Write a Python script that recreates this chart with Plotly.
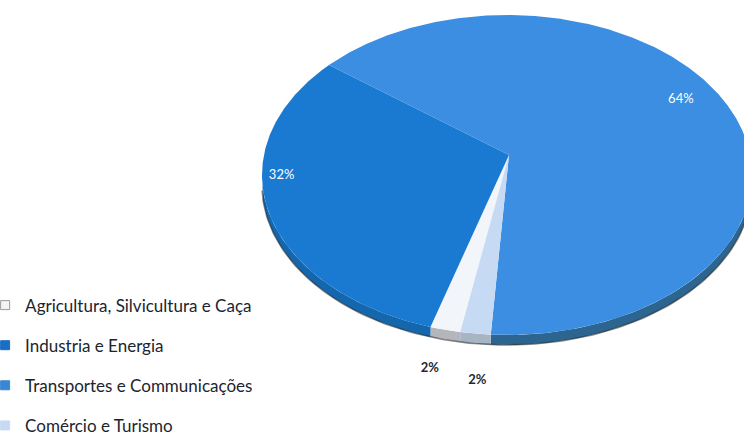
import numpy as np
import plotly.graph_objects as go

# ---- data ----
categories = ["Agricultura, Silvicultura e Caça", "Industria e Energia",
              "Transportes e Communicações", "Comércio e Turismo"]
values = [2, 32, 64, 2]
pct_labels = ["2%", "32%", "64%", "2%"]

# ---- style / geometry ----
top_colors = ["#f2f5fa", "#1a79d0", "#3c8ee2", "#c6daf4"]
side_colors = ["#b3b6ba", "#1466ad", "#2c6690", "#a7b4c4"]
legend_colors = ["#f4f4f4", "#1a6fc4", "#3a86d6", "#c6daf4"]
label_colors = ["#1e2a33", "white", "white", "#1e2a33"]
label_shift = [0, 14, -12, -2]      # degrees
label_radius = [1.25, 0.92, 0.85, 1.29]

CX, CY, RX, RY = 507, 175, 245, 160
APEX_DX, APEX_DY = 2, -20
DEPTH = 10
START = 191.0  # degrees clockwise from 12 o'clock


def ell(theta_deg, r=1.0, dy=0.0):
    t = np.radians(theta_deg)
    return CX + r * RX * np.sin(t), CY - r * RY * np.cos(t) + dy


total = float(sum(values))
bounds = []
a = START
for v in values:
    b = a + v / total * 360.0
    bounds.append((a, b))
    a = b

fig = go.Figure()

# side walls (visible front half: 90..270 deg)
for i, (a0, a1) in enumerate(bounds):
    for k in (-1, 0, 1, 2):
        lo = max(a0, 90 + 360 * k)
        hi = min(a1, 270 + 360 * k)
        if lo < hi:
            th = np.linspace(lo, hi, 80)
            xt, yt = ell(th)
            xb, yb = ell(th[::-1], dy=DEPTH)
            fig.add_trace(go.Scatter(
                x=np.concatenate([xt, xb]), y=np.concatenate([yt, yb]),
                fill="toself", fillcolor=side_colors[i], mode="lines",
                line=dict(width=0), hoverinfo="skip", showlegend=False))

# shadowed bottom edge
th = np.linspace(92, 268, 150)
xe, ye = ell(th, dy=DEPTH)
fig.add_trace(go.Scatter(x=xe, y=ye, mode="lines",
                         line=dict(color="rgba(40,40,40,0.55)", width=1.6),
                         hoverinfo="skip", showlegend=False))

# top faces
ax, ay = CX + APEX_DX, CY + APEX_DY
for i, (a0, a1) in enumerate(bounds):
    th = np.linspace(a0, a1, max(6, int((a1 - a0) * 2)))
    xs, ys = ell(th)
    fig.add_trace(go.Scatter(
        x=np.concatenate([[ax], xs, [ax]]), y=np.concatenate([[ay], ys, [ay]]),
        fill="toself", fillcolor=top_colors[i], mode="lines",
        line=dict(width=0), name=categories[i], hoverinfo="name",
        showlegend=False))

# percentage labels
for i, (a0, a1) in enumerate(bounds):
    mid = (a0 + a1) / 2 + label_shift[i]
    lx, ly = ell(mid, r=label_radius[i])
    bold = label_colors[i] != "white"
    fig.add_trace(go.Scatter(
        x=[lx], y=[ly], mode="text", text=[f"<b>{pct_labels[i]}</b>" if bold else pct_labels[i]],
        textfont=dict(family="Lato, Open Sans, sans-serif", size=13, color=label_colors[i]),
        hoverinfo="skip", showlegend=False))

# legend entries
for i, name in enumerate(categories):
    fig.add_trace(go.Scatter(
        x=[None], y=[None], mode="markers", name=name, legendgroup=name,
        marker=dict(symbol="square", size=9, color=legend_colors[i],
                    line=dict(color="#9a9a9a" if i == 0 else legend_colors[i], width=1))))

fig.update_layout(
    width=744, height=439,
    margin=dict(l=0, r=0, t=0, b=0, autoexpand=False),
    paper_bgcolor="white", plot_bgcolor="white",
    xaxis=dict(range=[0, 744], visible=False, fixedrange=True),
    yaxis=dict(range=[439, 0], visible=False, fixedrange=True),
    showlegend=True,
    legend=dict(x=-0.02, y=0.345, xanchor="left", yanchor="top", tracegroupgap=15,
                itemwidth=30, bgcolor="rgba(0,0,0,0)",
                font=dict(family="Lato, Open Sans, sans-serif", size=17, color="#1a2530")),
)

fig.write_html("out.html", config={"displayModeBar": False},
               post_script="document.body.style.margin='0px';document.body.style.overflow='hidden';")
